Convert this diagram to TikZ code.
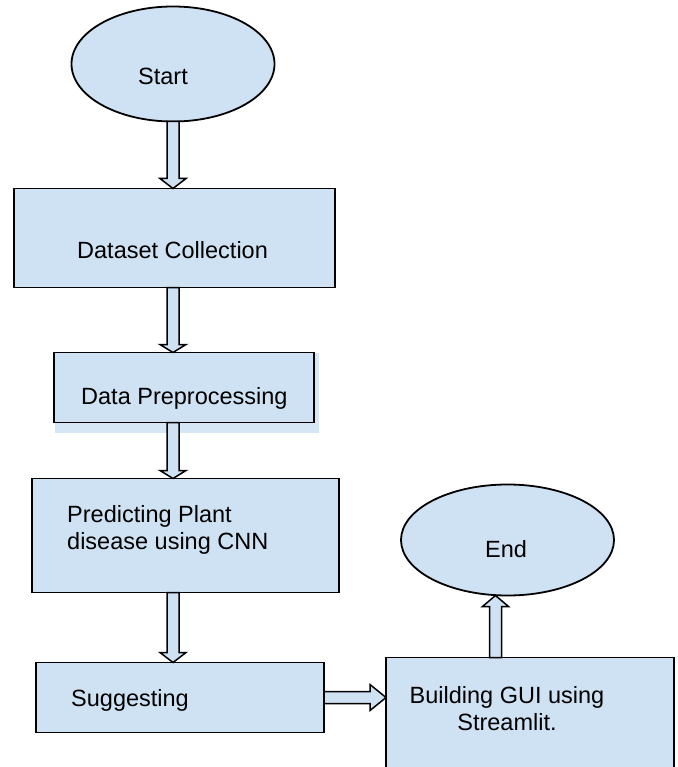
\documentclass[tikz,border=0pt]{standalone}
\usepackage{fontspec}
\setmainfont{Liberation Sans}
\usepackage{xcolor}
\usetikzlibrary{positioning,calc,shapes.geometric,backgrounds}
\definecolor{flowblue}{HTML}{CFE2F3}

% hollow block arrow from #2 to #3, head length #1
\newcommand{\blockarrow}[3][9pt]{%
  \path ($(#3)!#1!(#2)$) coordinate (hb);
  \draw[blk] ($(#2)!6pt!90:(#3)$) -- ($(hb)!6pt!-90:(#2)$) -- ($(hb)!13pt!-90:(#2)$)
    -- (#3) -- ($(hb)!13pt!90:(#2)$) -- ($(hb)!6pt!90:(#2)$) -- ($(#2)!6pt!-90:(#3)$) -- cycle;
}

\begin{document}
\begin{tikzpicture}[
    x=1pt, y=-1pt,
    term/.style={ellipse, draw, fill=flowblue, line width=1.8pt, outer sep=0pt, inner sep=0pt},
    stepbox/.style={rectangle, draw, fill=flowblue, line width=1.8pt, outer sep=0pt, inner sep=0pt},
    txt/.style={font=\fontsize{23.5}{27}\selectfont, inner sep=0pt},
    blk/.style={draw, fill=flowblue, line width=1.5pt, line join=miter},
    node distance=60pt
]
\clip (0,0) rectangle (677,767);

\node[term, minimum width=203pt, minimum height=115pt] (start) at (173,64) {};
\node[stepbox, minimum width=321pt, minimum height=99pt, below=67pt of start, xshift=1.5pt] (dataset) {};
\node[stepbox, minimum width=260pt, minimum height=70pt, below=65pt of dataset, xshift=9.5pt] (prep) {};
\node[stepbox, minimum width=307pt, minimum height=114pt, below=56pt of prep, xshift=1.5pt] (predict) {};
\node[stepbox, minimum width=288pt, minimum height=70pt, below=70pt of predict, xshift=-5.5pt] (suggest) {};
\node[stepbox, minimum width=288pt, minimum height=140pt, right=62pt of suggest.north east, anchor=north west, yshift=5pt] (build) {};
\node[term, minimum width=213pt, minimum height=111pt, above=62pt of build, xshift=-22.5pt] (end) {};

% shadow behind the preprocessing box
\begin{scope}[on background layer]
  \fill[flowblue!85] ($(prep.north west)+(1,0)$) rectangle ($(prep.south east)+(5,10)$);
\end{scope}

\node[txt, anchor=base west] (startlbl) at (138,85) {Start};
\node[txt, anchor=base west] (datalbl) at (77,258) {Dataset Collection};
\node[txt, anchor=base west] (preplbl) at (81,404) {Data Preprocessing};
\node[txt, anchor=base west, align=left] (predlbl) at (67,549) {Predicting Plant\\disease using CNN};
\node[txt, anchor=base west] (suglbl) at (71,706) {Suggesting};
\node[txt, anchor=base, align=center] (buildlbl) at (507,730) {Building GUI using\\Streamlit.};
\node[txt, anchor=base west] (endlbl) at (485,557) {End};

\coordinate (upfoot) at ($(build.north -| end)+(-12,0)$);

\blockarrow[10pt]{start.south}{dataset.north -| start}
\blockarrow[8pt]{dataset.south -| start}{prep.north -| start}
\blockarrow[8pt]{prep.south -| start}{predict.north -| start}
\blockarrow[10pt]{predict.south -| start}{suggest.north -| start}
\blockarrow[16pt]{suggest.east}{suggest.east -| build.west}
\blockarrow[11pt]{upfoot}{upfoot |- end.south}
\end{tikzpicture}
\end{document}
